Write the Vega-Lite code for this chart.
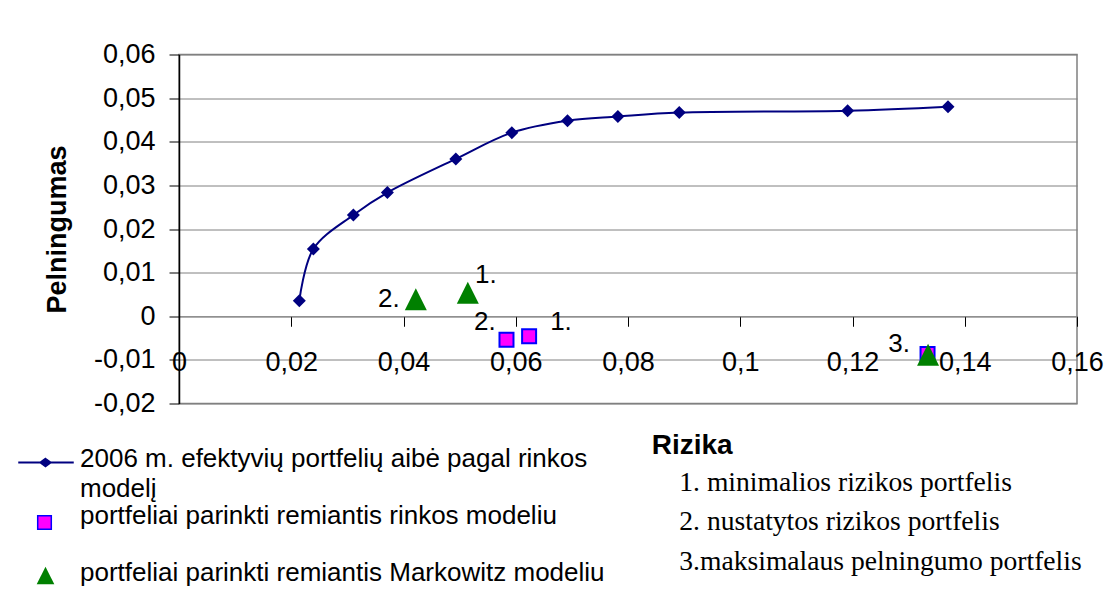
{
  "$schema": "https://vega.github.io/schema/vega-lite/v6.json",
  "width": 898,
  "height": 349,
  "autosize": {"type": "none"},
  "padding": {"left": 179, "top": 54.5, "right": 39, "bottom": 203.5},
  "background": "white",
  "config": {
    "font": "Liberation Sans",
    "view": {"stroke": "#808080", "strokeWidth": 1.5},
    "style": {"guide-label": {"lineHeight": 30}},
    "legend": {
      "orient": "none",
      "legendX": -146.5,
      "legendY": 399,
      "direction": "vertical",
      "padding": 0,
      "symbolSize": 400,
      "symbolStrokeWidth": 1.5,
      "labelFont": "Liberation Sans",
      "labelFontSize": 26,
      "labelColor": "#000000",
      "labelBaseline": "alphabetic",
      "labelOffset": 21.5,
      "labelLimit": 700,
      "rowPadding": 1,
      "gridAlign": "all"
    }
  },
  "title": {
    "text": "Rizika",
    "subtitle": ["\u200b\u00a0\u00a0\u00a0\u00a01. minimalios rizikos portfelis", "\u200b\u00a0\u00a0\u00a0\u00a02. nustatytos rizikos portfelis", "\u200b\u00a0\u00a0\u00a0\u00a03.maksimalaus pelningumo portfelis"],
    "orient": "top",
    "anchor": "start",
    "frame": "group",
    "align": "left",
    "offset": 0,
    "dx": 472.7,
    "dy": 535,
    "font": "Liberation Sans",
    "fontSize": 28,
    "fontWeight": "bold",
    "color": "#000000",
    "subtitleFont": "Liberation Serif",
    "subtitleFontSize": 27.6,
    "subtitleColor": "#000000",
    "subtitleLineHeight": 39.7,
    "subtitlePadding": 9
  },
  "datasets": {
    "frontier": [
      {"x": 0.02144, "y": 0.00358},
      {"x": 0.02394, "y": 0.01543},
      {"x": 0.03107, "y": 0.02322},
      {"x": 0.03713, "y": 0.02834},
      {"x": 0.04932, "y": 0.03606},
      {"x": 0.0593, "y": 0.04209},
      {"x": 0.06922, "y": 0.04482},
      {"x": 0.0782, "y": 0.04576},
      {"x": 0.08913, "y": 0.04668},
      {"x": 0.11913, "y": 0.04713},
      {"x": 0.13702, "y": 0.04805}
    ],
    "rinkos": [
      {"x": 0.06238, "y": -0.00458, "portfelis": "1."},
      {"x": 0.05835, "y": -0.00539, "portfelis": "2."},
      {"x": 0.13337, "y": -0.00864, "portfelis": "3."}
    ],
    "markowitz": [
      {"x": 0.05146, "y": 0.00539, "portfelis": "1."},
      {"x": 0.04219, "y": 0.00392, "portfelis": "2."},
      {"x": 0.13346, "y": -0.00883, "portfelis": "3."}
    ],
    "labels": [
      {"x": 0.05276, "y": 0.00763, "text": "1."},
      {"x": 0.03547, "y": 0.0022, "text": "2."},
      {"x": 0.05258, "y": -0.00314, "text": "2."},
      {"x": 0.06613, "y": -0.00314, "text": "1."},
      {"x": 0.12638, "y": -0.00812, "text": "3."}
    ],
    "legendkeys": []
  },
  "encoding": {
    "x": {
      "field": "x",
      "type": "quantitative",
      "scale": {"domain": [0, 0.16], "nice": false, "zero": false},
      "axis": {
        "values": [0, 0.02, 0.04, 0.06, 0.08, 0.1, 0.12, 0.14, 0.16],
        "labelExpr": "replace(toString(datum.value), '.', ',')",
        "offset": -87.25,
        "grid": false,
        "domainColor": "#808080",
        "domainWidth": 1,
        "tickColor": "#000000",
        "tickSize": 10,
        "tickWidth": 1,
        "labelFont": "Liberation Sans",
        "labelFontSize": 27,
        "labelColor": "#000000",
        "labelPadding": 23,
        "labelFlush": false,
        "labelOverlap": false,
        "title": null
      }
    },
    "y": {
      "field": "y",
      "type": "quantitative",
      "scale": {"domain": [-0.02, 0.06], "nice": false, "zero": false},
      "axis": {
        "values": [-0.02, -0.01, 0, 0.01, 0.02, 0.03, 0.04, 0.05, 0.06],
        "labelExpr": "replace(toString(datum.value), '.', ',')",
        "grid": true,
        "gridColor": "#808080",
        "gridWidth": 1,
        "domainColor": "#000000",
        "domainWidth": 1.5,
        "tickColor": "#000000",
        "tickSize": 10,
        "tickWidth": 1,
        "labelFont": "Liberation Sans",
        "labelFontSize": 27,
        "labelColor": "#000000",
        "labelPadding": 14,
        "labelOverlap": false,
        "title": "Pelningumas",
        "titleFont": "Liberation Sans",
        "titleFontSize": 27,
        "titleFontWeight": "bold",
        "titleColor": "#000000",
        "titlePadding": 22
      }
    }
  },
  "layer": [
    {
      "data": {"name": "frontier"},
      "mark": {"type": "line", "color": "#000080", "strokeWidth": 2, "interpolate": "catmull-rom"}
    },
    {
      "data": {"name": "frontier"},
      "mark": {"type": "point", "shape": "diamond", "filled": true, "color": "#000080", "size": 169, "opacity": 1}
    },
    {
      "data": {"name": "rinkos"},
      "mark": {"type": "point", "shape": "square", "filled": true, "fill": "#ff00ff", "stroke": "#0000ff", "strokeWidth": 2, "size": 196, "opacity": 1}
    },
    {
      "data": {"name": "markowitz"},
      "mark": {"type": "point", "shape": "M0,-1L1,1L-1,1Z", "filled": true, "fill": "#008000", "strokeWidth": 0, "size": 484, "opacity": 1}
    },
    {
      "data": {"name": "labels"},
      "mark": {"type": "text", "align": "left", "baseline": "alphabetic", "font": "Liberation Sans", "fontSize": 26, "color": "#000000"},
      "encoding": {"text": {"field": "text"}}
    },
    {
      "data": {"name": "legendkeys"},
      "mark": {"type": "point", "filled": true, "opacity": 1},
      "encoding": {
        "shape": {
          "field": "series",
          "type": "nominal",
          "scale": {
            "domain": ["2006 m. efektyvių portfelių aibė pagal rinkos modelį", "portfeliai parinkti remiantis rinkos modeliu", "portfeliai parinkti remiantis Markowitz modeliu"],
            "range": ["M-2.65,-0.43H2.75V-0.37H-2.65Z M0,-0.8L0.55,-0.4L0,0L-0.55,-0.4Z", "M-0.78,-0.78H0.58V0.58H-0.78Z", "M0,-1.38L0.88,0.38L-0.88,0.38Z"]
          },
          "legend": {
            "title": null,
            "labelExpr": "datum.value === '2006 m. efektyvių portfelių aibė pagal rinkos modelį' ? ['2006 m. efektyvių portfelių aibė pagal rinkos', 'modelį'] : datum.label"
          }
        },
        "fill": {
          "field": "series",
          "type": "nominal",
          "scale": {
            "domain": ["2006 m. efektyvių portfelių aibė pagal rinkos modelį", "portfeliai parinkti remiantis rinkos modeliu", "portfeliai parinkti remiantis Markowitz modeliu"],
            "range": ["#000080", "#ff00ff", "#008000"]
          },
          "legend": {
            "title": null,
            "labelExpr": "datum.value === '2006 m. efektyvių portfelių aibė pagal rinkos modelį' ? ['2006 m. efektyvių portfelių aibė pagal rinkos', 'modelį'] : datum.label"
          }
        },
        "stroke": {
          "field": "series",
          "type": "nominal",
          "scale": {
            "domain": ["2006 m. efektyvių portfelių aibė pagal rinkos modelį", "portfeliai parinkti remiantis rinkos modeliu", "portfeliai parinkti remiantis Markowitz modeliu"],
            "range": ["#000080", "#0000ff", "transparent"]
          },
          "legend": {
            "title": null,
            "labelExpr": "datum.value === '2006 m. efektyvių portfelių aibė pagal rinkos modelį' ? ['2006 m. efektyvių portfelių aibė pagal rinkos', 'modelį'] : datum.label"
          }
        }
      }
    }
  ]
}
